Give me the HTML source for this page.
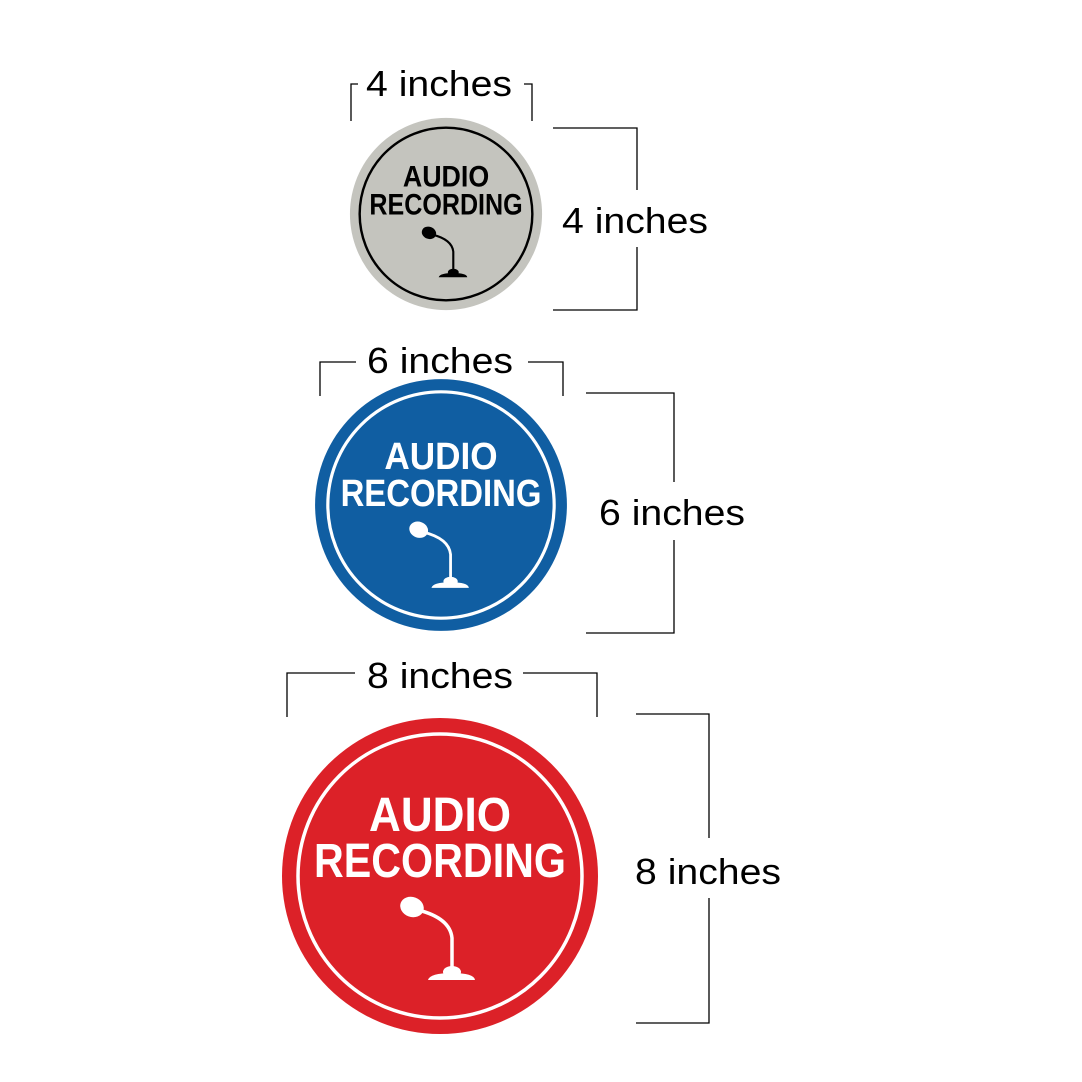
<!DOCTYPE html>
<html><head><style>body{margin:0;background:#fff}svg{display:block}</style></head><body>
<svg width="1082" height="1082" viewBox="0 0 1082 1082" xmlns="http://www.w3.org/2000/svg" font-family="Liberation Sans, sans-serif">
<rect width="1082" height="1082" fill="#fff"/>
<defs>
<g id="content">
<text x="0" y="-45" font-size="48" font-weight="bold" text-anchor="middle" textLength="142" lengthAdjust="spacingAndGlyphs">AUDIO</text>
<text x="0" y="1" font-size="48" font-weight="bold" text-anchor="middle" textLength="252" lengthAdjust="spacingAndGlyphs">RECORDING</text>
<ellipse cx="-28" cy="31" rx="12" ry="10" transform="rotate(20 -28 31)"/>
<path d="M-22 34 Q10 42 12 62 L12 96" fill="none" stroke-width="3.5" stroke="currentColor"/>
<ellipse cx="12" cy="96" rx="9" ry="6"/>
<path d="M-12 104 Q-10 97 12 97 Q34 97 35 104 Z"/>
</g>
</defs>
<g transform="translate(446 214) scale(0.608)" color="#000" fill="#000">
<circle r="158" fill="#c4c4be"/>
<circle r="142" fill="none" stroke="#000" stroke-width="4"/>
<use href="#content"/>
</g>
<g transform="translate(441 505) scale(0.797)" color="#fff" fill="#fff">
<circle r="158" fill="#105ea2"/>
<circle r="142" fill="none" stroke="#fff" stroke-width="4"/>
<use href="#content"/>
</g>
<g transform="translate(440 876)" color="#fff" fill="#fff">
<circle r="158" fill="#dc2128"/>
<circle r="142" fill="none" stroke="#fff" stroke-width="3.5"/>
<use href="#content"/>
</g>
<g fill="none" stroke="#000" stroke-width="1.3">
<path d="M351 121 V84 H358 M524 84 H532 V121"/>
<path d="M553 128 H637 V190 M637 247 V310 H553"/>
<path d="M320 396 V362 H356 M528 362 H563 V396"/>
<path d="M586 393 H674 V482 M674 540 V633 H586"/>
<path d="M287 717 V673 H355 M523 673 H597 V717"/>
<path d="M636 714 H709 V838 M709 898 V1023 H636"/>
</g>
<g font-size="36" fill="#000">
<text x="366" y="96" textLength="146" lengthAdjust="spacingAndGlyphs">4 inches</text>
<text x="562" y="233" textLength="146" lengthAdjust="spacingAndGlyphs">4 inches</text>
<text x="367" y="373" textLength="146" lengthAdjust="spacingAndGlyphs">6 inches</text>
<text x="599" y="525" textLength="146" lengthAdjust="spacingAndGlyphs">6 inches</text>
<text x="367" y="688" textLength="146" lengthAdjust="spacingAndGlyphs">8 inches</text>
<text x="635" y="884" textLength="146" lengthAdjust="spacingAndGlyphs">8 inches</text>
</g>
</svg>
</body></html>
